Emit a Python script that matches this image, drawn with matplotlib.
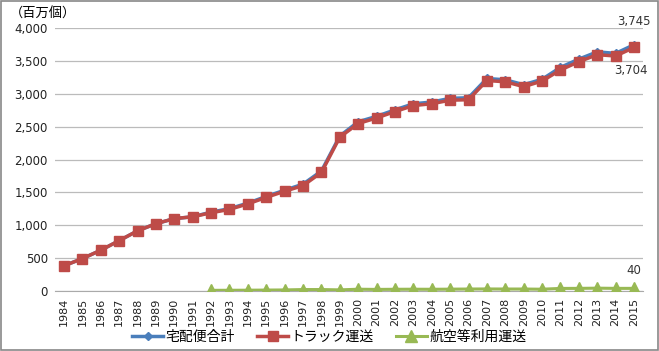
import matplotlib.pyplot as plt
from matplotlib.patches import Rectangle

plt.rcParams['font.family'] = ['Noto Sans CJK JP', 'DejaVu Sans']

# Years and series (million parcels)
years = [str(y) for y in range(1984, 2016)]
total = [384, 493, 620, 766, 915, 1024, 1101, 1129, 1200, 1252, 1337, 1438,
         1533, 1625, 1825, 2357, 2574, 2656, 2755, 2847, 2874, 2930, 2939, 3232,
         3212, 3138, 3220, 3401, 3527, 3637, 3614, 3745]
truck = [384, 493, 620, 766, 915, 1024, 1101, 1129, 1190, 1241, 1325, 1424,
         1517, 1603, 1803, 2340, 2547, 2632, 2729, 2820, 2848, 2902, 2909, 3201,
         3182, 3108, 3193, 3362, 3487, 3594, 3574, 3704]
air = [None] * 8 + [10, 11, 12, 14, 16, 22, 22, 17, 27, 24, 26, 27,
                    26, 28, 30, 31, 30, 30, 27, 39, 40, 43, 40, 40]

x = list(range(len(years)))
air_x = [i for i, v in zip(x, air) if v is not None]
air_y = [v for v in air if v is not None]

fig = plt.figure(figsize=(6.59, 3.51), dpi=100)
ax = fig.add_axes([54.8 / 659, 1 - 291 / 351, (643.2 - 54.8) / 659, 263 / 351])

ax.plot(x, total, color='#4A7EBB', lw=2.5, marker='D', ms=4, label='宅配便合計', zorder=3)
ax.plot(x, truck, color='#BE4B48', lw=2.5, marker='s', ms=7, label='トラック運送', zorder=4)
ax.plot(air_x, air_y, color='#98B954', lw=2.2, marker='^', ms=8, label='航空等利用運送', zorder=4)

ax.set_xlim(-0.5, len(years) - 0.5)
ax.set_ylim(0, 4000)
ax.set_yticks(range(0, 4001, 500))
ax.set_yticklabels([f'{v:,}' for v in range(0, 4001, 500)], fontsize=8.5, family='DejaVu Sans')
ax.set_xticks(x)
ax.set_xticklabels(years, rotation=90, fontsize=8, family='DejaVu Sans')
ax.tick_params(axis='both', length=0, pad=5, colors='#222222')
ax.grid(axis='y', color='#BBBBBB', lw=0.9)
ax.set_axisbelow(True)
for s in ['top', 'right', 'left']:
    ax.spines[s].set_visible(False)
ax.spines['bottom'].set_color('#AAAAAA')

ax.annotate(f'{total[-1]:,}', (x[-1], total[-1]), xytext=(0, 12), textcoords='offset points',
            ha='center', va='bottom', fontsize=8.5, family='DejaVu Sans', color='#333333')
ax.annotate(f'{truck[-1]:,}', (x[-1], truck[-1]), xytext=(-2, -12), textcoords='offset points',
            ha='center', va='top', fontsize=8.5, family='DejaVu Sans', color='#333333')
ax.annotate(f'{air_y[-1]}', (air_x[-1], air_y[-1]), xytext=(0, 8), textcoords='offset points',
            ha='center', va='bottom', fontsize=8.5, family='DejaVu Sans', color='#333333')

fig.text(10 / 659, 1 - 14 / 351, '（百万個）', fontsize=9.5, va='center', ha='left')

fig.legend(loc='center', bbox_to_anchor=(0.5, 1 - 337 / 351), ncol=3, frameon=False,
           fontsize=10, handlelength=2.2, columnspacing=1.6, handletextpad=0.2)

fig.patches.append(Rectangle((0.002, 0.003), 0.996, 0.994, transform=fig.transFigure,
                             fill=False, ec='#888888', lw=1.2))

fig.savefig('out.png', dpi=100)
